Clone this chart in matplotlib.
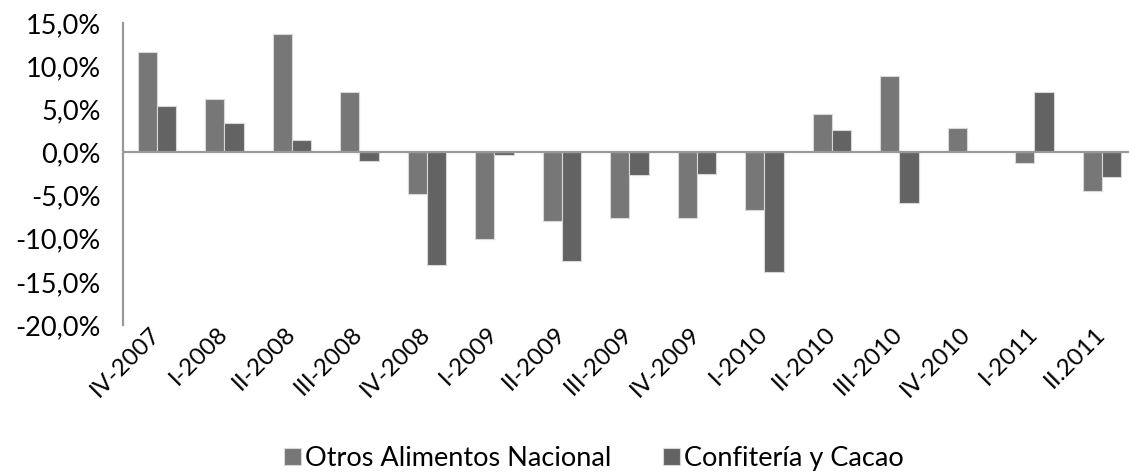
import matplotlib.pyplot as plt
import numpy as np

periods = ["IV-2007", "I-2008", "II-2008", "III-2008", "IV-2008", "I-2009",
           "II-2009", "III-2009", "IV-2009", "I-2010", "II-2010", "III-2010",
           "IV-2010", "I-2011", "II.2011"]
otros = [11.6, 6.2, 13.7, 7.0, -4.8, -10.0, -7.9, -7.6, -7.6, -6.7,
         4.5, 8.9, 2.8, -1.2, -4.5]
confiteria = [5.4, 3.45, 1.4, -1.0, -13.0, -0.35, -12.6, -2.6, -2.5, -13.9,
              2.6, -5.9, 0.0, 7.0, -2.9]
yticks = [15, 10, 5, 0, -5, -10, -15, -20]

plt.rcParams["font.family"] = ["Lato", "DejaVu Sans"]

fig = plt.figure(figsize=(11.29, 4.74), dpi=100)
ax = fig.add_axes([123 / 1129, 149 / 474, 1006 / 1129, 302 / 474])

x = np.arange(len(periods))
w = 0.285
ax.bar(x - w / 2, otros, w, color="#777777", edgecolor="#d8d8d8",
       linewidth=0.8, label="Otros Alimentos Nacional")
ax.bar(x + w / 2, confiteria, w, color="#636363", edgecolor="#d8d8d8",
       linewidth=0.8, label="Confitería y Cacao")

ax.axhline(0, color="#999999", linewidth=1.6, zorder=3)
ax.set_xlim(-0.5, 14.4)
ax.set_ylim(-20, 15)
ax.set_yticks(yticks)
ax.set_yticklabels([f"{v:.1f}%".replace(".", ",") for v in yticks], fontsize=19.5)
ax.set_xticks(x)
ax.set_xticklabels(periods, rotation=45, ha="right", va="center",
                   rotation_mode="anchor", fontsize=17.5)
ax.tick_params(axis="both", length=0)
ax.tick_params(axis="y", pad=16)
ax.tick_params(axis="x", pad=4)

for s in ["top", "right", "bottom"]:
    ax.spines[s].set_visible(False)
ax.spines["left"].set_color("#999999")
ax.spines["left"].set_linewidth(1.6)

fig.legend(loc="lower center", bbox_to_anchor=(0.526, -0.045), ncol=2,
           frameon=False, fontsize=19.5, handlelength=0.63, handleheight=0.63,
           handletextpad=0.15, columnspacing=1.9)

fig.savefig("out.png", dpi=100)
